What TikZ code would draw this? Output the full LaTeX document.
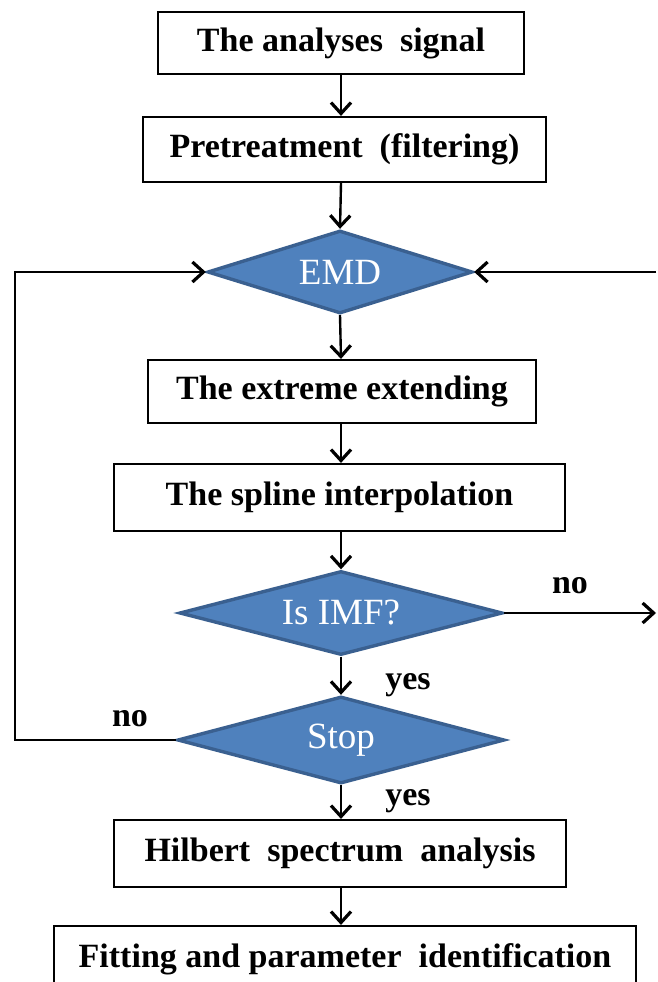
\documentclass[tikz,border=0pt]{standalone}
\usepackage{fontspec}
\setmainfont{Liberation Serif}
\usetikzlibrary{shapes.geometric,arrows.meta}

\definecolor{dfill}{HTML}{4F81BD}
\definecolor{dline}{HTML}{3A6090}

\tikzset{
  stepbox/.style={draw=black, line width=2.2pt, fill=white, inner sep=0pt,
    font=\fontsize{34}{36}\selectfont\bfseries},
  decision/.style={shape=diamond, draw=dline, line width=3.4pt, fill=dfill,
    inner sep=0pt, text=white, font=\fontsize{37}{39}\selectfont},
  arr/.style={line width=2.4pt, -{Straight Barb[length=11pt,width=20pt,line width=3.2pt]}},
  lbl/.style={font=\fontsize{34}{36}\selectfont\bfseries, anchor=base, inner sep=0pt}
}

\begin{document}
\begin{tikzpicture}[x=1pt, y=-1pt]
  \clip (0,0) rectangle (657,982);
  \fill[white] (0,0) rectangle (657,982);

  % reference columns
  \coordinate (axis) at (341,0);
  \coordinate (loopL) at (15,0);
  \coordinate (rightedge) at (656,0);

  % process steps
  \node[stepbox, minimum width=366pt, minimum height=62pt] (sig) at (341,43) {The analyses\ \ signal};
  \node[stepbox, minimum width=403pt, minimum height=65pt] (pre) at (344.5,149.5) {Pretreatment\ \ (filtering)};
  \node[decision, aspect=3.2, minimum width=265pt, minimum height=83pt] (emd) at (340,272) {EMD};
  \node[stepbox, minimum width=388pt, minimum height=63pt] (ext) at (342,391.5) {The extreme extending};
  \node[stepbox, minimum width=451pt, minimum height=67pt] (spl) at (339.5,497.5) {The spline interpolation};
  \node[decision, aspect=3.85, minimum width=323pt, minimum height=84pt] (imf) at (341,613) {Is IMF?};
  \node[decision, aspect=3.76, minimum width=327pt, minimum height=87pt] (stop) at (341,740) {Stop};
  \node[stepbox, minimum width=452pt, minimum height=67pt] (hil) at (340,853.5) {Hilbert\ \ spectrum\ \ analysis};
  \node[stepbox, minimum width=582pt, minimum height=67pt] (fit) at (345,959.5) {Fitting and parameter\ \ identification};

  % main flow
  \draw[arr] (sig.south -| axis) -- (pre.north -| axis);
  \draw[arr] (pre.south -| axis) -- (emd.north);
  \draw[arr] (emd.south) -- (ext.north -| axis);
  \draw[arr] (ext.south -| axis) -- (spl.north -| axis);
  \draw[arr] (spl.south -| axis) -- (imf.north);
  \draw[arr] (imf.south) -- (stop.north);
  \draw[arr] (stop.south) -- (hil.north -| axis);
  \draw[arr] (hil.south -| axis) -- (fit.north -| axis);

  % loops
  \draw[arr] (stop.west) -- (stop.west -| loopL) |- (emd.west);
  \draw[arr] (emd.east -| rightedge) -- (emd.east);
  \draw[arr] (imf.east) -- (imf.east -| rightedge);

  % branch labels
  \node[lbl] (noR) at (570,593) {no};
  \node[lbl] (noL) at (130,726) {no};
  \node[lbl] (yes1) at (408,689) {yes};
  \node[lbl] (yes2) at (408,805) {yes};
\end{tikzpicture}
\end{document}
